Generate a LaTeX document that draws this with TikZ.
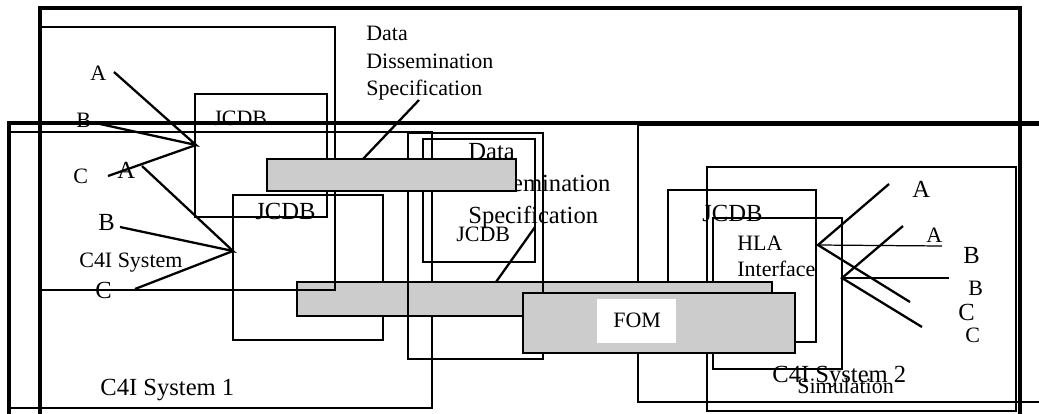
\documentclass[tikz,border=0pt]{standalone}
\usepackage{fontspec}
\setmainfont{Liberation Serif}
\definecolor{bargray}{RGB}{204,204,204}
\tikzset{
  outerframe/.style={line width=2.3pt},
  thinbox/.style={line width=0.7pt},
  midbox/.style={line width=1.1pt},
  greybar/.style={line width=1.3pt, fill=bargray},
  wire/.style={line width=1.3pt},
  hairwire/.style={line width=0.7pt},
  biglbl/.style={font=\fontsize{14}{18.1}\selectfont, inner sep=0pt, anchor=base west},
  smalllbl/.style={font=\fontsize{12.5}{15.6}\selectfont, inner sep=0pt, anchor=base west},
}
\begin{document}
\begin{tikzpicture}[x=0.02cm,y=-0.02cm]
\clip (0,0) rectangle (1039,413);
\fill[white] (0,0) rectangle (1039,413);
\node[smalllbl] (a1) at (90,80) {A};
\node[smalllbl] (b1) at (76,127) {B};
\node[smalllbl] (c1) at (73,183) {C};
\node[smalllbl] (jcdb1) at (213,125) {JCDB};
\node[smalllbl] (sys1) at (79,267) {C4I System};
\node[smalllbl, anchor=north west, align=left] (dds1) at (366,26) {Data\\Dissemination\\Specification};
\node[biglbl] (a2) at (117,178) {A};
\node[biglbl] (b2) at (98,230) {B};
\node[biglbl] (c2) at (95,298) {C};
\node[biglbl] (sysone) at (100,395) {C4I System 1};
\node[biglbl] (jcdb2) at (255,219) {JCDB};
\node[biglbl, anchor=north west, align=left] (dds2) at (468,143) {Data\\Dissemination\\Specification};
\node[smalllbl] (jcdb3) at (456,241) {JCDB};
\node[biglbl] (jcdb4) at (702,221) {JCDB};
\node[smalllbl, anchor=north west, align=left, font=\fontsize{12.5}{14.7}\selectfont] (hla) at (737,236) {HLA\\Interface};
\node[biglbl] (systwo) at (772,382) {C4I System 2};
\node[smalllbl] (simu) at (797,393) {Simulation};
\node[biglbl] (ra1) at (912,197) {A};
\node[smalllbl] (ra2) at (926,242) {A};
\node[biglbl] (rb1) at (963,263) {B};
\node[smalllbl] (rb2) at (968,295) {B};
\node[biglbl] (rc1) at (958,320) {C};
\node[smalllbl] (rc2) at (965,342) {C};
\draw[outerframe] (40,8) rectangle (1020,440);
\draw[outerframe] (9,123) rectangle (1060,440);
\draw[thinbox] (195,94) rectangle (327,217);
\draw[thinbox] (9,132) rectangle (432,408);
\draw[thinbox] (233,195) rectangle (383,340);
\draw[thinbox] (638,125) rectangle (1060,402);
\draw[midbox] (668,190) rectangle (816,342);
\draw[midbox] (707,167) rectangle (1016,411);
\draw[midbox] (713,218) rectangle (842,369);
\draw[line width=1.5pt] (423,139) rectangle (535,262);
\coordinate (v1) at (196,145);
\coordinate (v2) at (233,251);
\coordinate (a1e) at (114,72);
\coordinate (b1e) at (100,124);
\coordinate (c1e) at (108,176);
\coordinate (a2e) at (142,166);
\coordinate (b2e) at (120,227);
\coordinate (c2e) at (135,289);
\draw[wire] (a1e) -- (v1) -- (b1e);
\draw[wire] (v1) -- (c1e);
\draw[wire] (a2e) -- (v2) -- (b2e);
\draw[wire] (v2) -- (c2e);
\coordinate (r1) at (818,245);
\coordinate (r2) at (842,278);
\coordinate (r1a) at (889,184);
\coordinate (r1b) at (942,246);
\coordinate (r1c) at (910,302);
\coordinate (r2a) at (903,226);
\coordinate (r2b) at (949,278);
\coordinate (r2c) at (922,327);
\draw[wire] (r1a) -- (r1) -- (r1c);
\draw[hairwire] (r1) -- (r1b);
\draw[wire] (r2a) -- (r2) -- (r2c);
\draw[hairwire] (r2) -- (r2b);
\draw[greybar] (297,282) rectangle (772,316);
\draw[midbox] (408,133) rectangle (543,359);
\draw[thinbox] (40,27) rectangle (335,290);
\draw[greybar] (523,293) rectangle (795,353);
\fill[white] (597,299) rectangle (676,343);
\node[smalllbl] (fom) at (613,327) {FOM};
\draw[greybar] (267,159) rectangle (516,191);
\coordinate (p1) at (419,100);
\coordinate (p1e) at (363,159);
\coordinate (p2) at (535,227);
\coordinate (p2e) at (496,282);
\draw[wire] (p1) -- (p1e);
\draw[wire] (p2) -- (p2e);
\end{tikzpicture}
\end{document}
